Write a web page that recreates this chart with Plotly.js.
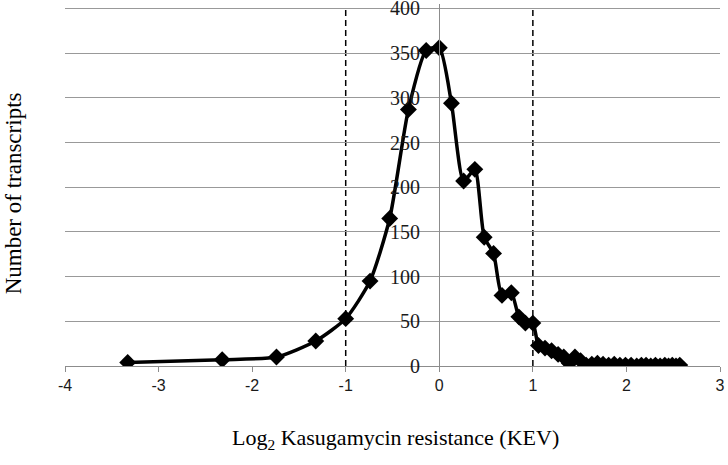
<!DOCTYPE html>
<html>
<head>
<meta charset="utf-8">
<script src="https://cdn.plot.ly/plotly-3.0.1.min.js"></script>
<style>html,body{margin:0;padding:0;background:#fff;}#chart{width:728px;height:465px;}</style>
</head>
<body>
<div id="chart"></div>
<script>
// Log2 Kasugamycin resistance (KEV) values
const kev = [-3.33, -2.32, -1.74, -1.32, -1.00, -0.74, -0.53, -0.33, -0.14, 0.00,
  0.13, 0.26, 0.38, 0.48, 0.58, 0.67, 0.77, 0.85, 0.92, 1.00,
  1.06, 1.13, 1.20, 1.27, 1.33, 1.39, 1.45, 1.51, 1.57, 1.63,
  1.69, 1.75, 1.81, 1.87, 1.93, 1.99, 2.05, 2.11, 2.16, 2.21,
  2.26, 2.31, 2.36, 2.41, 2.45, 2.49, 2.53, 2.57];
// Number of transcripts
const transcripts = [4, 7, 10, 28, 53, 95, 165, 287, 353, 356,
  294, 207, 220, 144, 126, 79, 82, 55, 48, 48,
  23, 20, 17, 13, 10, 3, 10, 6, 1, 2,
  3, 2, 1, 2, 1, 1, 1, 0, 1, 1,
  0, 1, 0, 1, 0, 1, 0, 1];
// Dashed cut-off lines
const cutoffs = [-1, 1];
const yMax = 400;
const xTicks = [-4, -3, -2, -1, 0, 1, 2, 3];
const yTicks = [0, 50, 100, 150, 200, 250, 300, 350, 400];

const serif = 'Liberation Serif, Times New Roman, serif';

const trace = {
  x: kev, y: transcripts, type: 'scatter', mode: 'lines+markers',
  line: {color: '#000', width: 3.5, shape: 'spline', smoothing: 0.6},
  marker: {symbol: 'diamond', size: 13, color: '#000'},
  hoverinfo: 'x+y'
};

const shapes = cutoffs.map(c => ({
  type: 'line', xref: 'x', yref: 'y', x0: c, x1: c, y0: 0, y1: yMax,
  line: {color: '#000', width: 1.5, dash: '6px,4px'}, layer: 'below'
}));

// y tick labels sit beside the y axis, which crosses at x = 0
const yLabelAnnotations = yTicks.map(v => ({
  text: String(v), xref: 'x', yref: 'y', x: 0, y: v,
  xanchor: 'right', yanchor: 'middle', xshift: -17, showarrow: false,
  font: {family: serif, size: 20, color: '#1a1a1a'}
}));

const layout = {
  width: 728, height: 465,
  margin: {l: 65, r: 8, t: 4, b: 99},
  paper_bgcolor: '#fff', plot_bgcolor: '#fff',
  showlegend: false,
  xaxis: {
    range: [-4, 3], tickvals: xTicks, ticktext: xTicks.map(String),
    ticks: 'outside', ticklen: 5, tickcolor: '#8c8c8c', tickwidth: 1,
    showline: true, linecolor: '#8c8c8c', linewidth: 1,
    showgrid: false, zeroline: false,
    tickfont: {family: 'Liberation Sans, Arial, sans-serif', size: 16, color: '#1a1a1a'}
  },
  yaxis: {
    range: [0, yMax + 5], tickvals: yTicks,
    anchor: 'free', position: 4/7, side: 'left',
    showline: true, linecolor: '#8c8c8c', linewidth: 1,
    ticks: '', showticklabels: false,
    showgrid: true, gridcolor: '#999999', gridwidth: 1, zeroline: false
  },
  shapes: shapes,
  annotations: yLabelAnnotations.concat([
    {text: 'Number of transcripts', xref: 'paper', yref: 'paper',
     x: -0.079, y: 0.4776, xanchor: 'center', yanchor: 'middle', textangle: -90,
     showarrow: false, font: {family: serif, size: 23, color: '#000'}},
    {text: 'Log<sub>2</sub> Kasugamycin resistance (KEV)', xref: 'paper', yref: 'paper',
     x: 0.504, y: -0.2017, xanchor: 'center', yanchor: 'middle',
     showarrow: false, font: {family: serif, size: 22, color: '#000'}}
  ])
};

Plotly.newPlot('chart', [trace], layout, {displayModeBar: false, staticPlot: true});
</script>
</body>
</html>
